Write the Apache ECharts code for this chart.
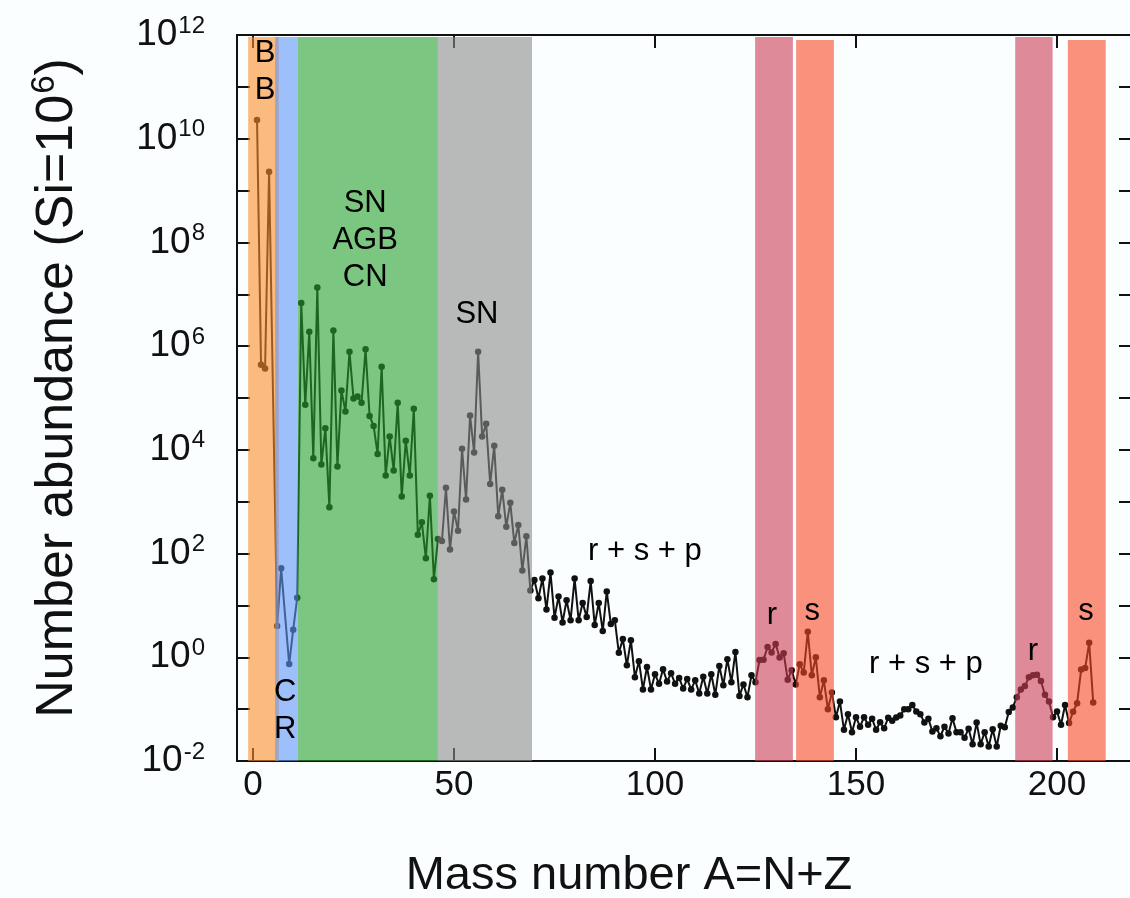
<!DOCTYPE html>
<html>
<head>
<meta charset="utf-8">
<title>Solar system abundances</title>
<script src="https://cdn.jsdelivr.net/npm/echarts@6/dist/echarts.min.js"></script>
<style>
  html, body { margin: 0; padding: 0; background: #fafefe; }
  #chart { width: 1130px; height: 898px; }
</style>
</head>
<body>
<div id="chart"></div>
<script>
// mass number A and number abundance (Si = 1e6)
const massNumber = [
  1, 2, 3, 4, 6, 7, 9, 10, 11, 12, 13, 14, 15, 16, 17, 18, 19, 20,
  21, 22, 23, 24, 25, 26, 27, 28, 29, 30, 31, 32, 33, 34, 35, 36, 37, 38, 39, 40,
  41, 42, 43, 44, 45, 46, 47, 48, 49, 50, 51, 52, 53, 54, 55, 56, 57, 58, 59, 60,
  61, 62, 63, 64, 65, 66, 67, 68, 69, 70, 71, 72, 73, 74, 75, 76, 77, 78, 79, 80,
  81, 82, 83, 84, 85, 86, 87, 88, 89, 90, 91, 92, 93, 94, 95, 96, 97, 98, 99, 100,
  101, 102, 103, 104, 105, 106, 107, 108, 109, 110, 111, 112, 113, 114, 115, 116, 117, 118, 119, 120,
  121, 122, 123, 124, 125, 126, 127, 128, 129, 130, 131, 132, 133, 134, 135, 136, 137, 138, 139, 140,
  141, 142, 143, 144, 145, 146, 147, 148, 149, 150, 151, 152, 153, 154, 155, 156, 157, 158, 159, 160,
  161, 162, 163, 164, 165, 166, 167, 168, 169, 170, 171, 172, 173, 174, 175, 176, 177, 178, 179, 180,
  181, 182, 183, 184, 185, 186, 187, 188, 189, 190, 191, 192, 193, 194, 195, 196, 197, 198, 199, 200,
  201, 202, 203, 204, 205, 206, 207, 208, 209
];
const abundance = [
  2.3e10, 4.4e5, 3.7e5, 2.3e9, 4.0, 52, 0.74, 3.4, 14, 6.8e6, 7.4e4, 1.9e6, 6.9e3, 1.35e7, 5.2e3, 2.6e4, 780, 2.0e6,
  4.8e3, 1.4e5, 5.5e4, 7.8e5, 9.8e4, 1.07e5, 8.1e4, 8.7e5, 4.5e4, 2.9e4, 8.3e3, 4.0e5, 3.2e3, 1.8e4, 4.0e3, 8.1e4, 1.26e3, 1.5e4, 3.2e3, 6.2e4,
  230, 400, 81, 1.3e3, 32, 190, 175, 1.86e3, 120, 650, 275, 1.05e4, 1.1e3, 4.6e4, 8.9e3, 7.8e5, 1.8e4, 3.2e4, 2.2e3, 1.2e4,
  525, 1.7e3, 330, 950, 160, 355, 47, 215, 19.5, 31, 13.8, 33, 8.3, 43, 5.8, 14.8, 4.7, 12.6, 5.2, 33,
  5.2, 11.2, 6.0, 29.5, 4.2, 11.2, 3.2, 18.6, 4.4, 5.2, 1.22, 2.24, 0.70, 2.14, 0.41, 0.84, 0.24, 0.65, 0.24, 0.47,
  0.31, 0.59, 0.34, 0.49, 0.31, 0.40, 0.25, 0.38, 0.24, 0.36, 0.20, 0.42, 0.20, 0.47, 0.19, 0.68, 0.29, 0.92, 0.33, 1.26,
  0.18, 0.30, 0.17, 0.45, 0.33, 0.89, 0.90, 1.58, 1.24, 1.8, 0.99, 1.2, 0.37, 0.56, 0.30, 0.73, 0.51, 3.1, 0.45, 1.0,
  0.17, 0.36, 0.10, 0.21, 0.07, 0.14, 0.04, 0.08, 0.036, 0.07, 0.046, 0.07, 0.05, 0.065, 0.04, 0.056, 0.043, 0.068, 0.06, 0.069,
  0.075, 0.10, 0.10, 0.12, 0.09, 0.08, 0.055, 0.065, 0.037, 0.043, 0.03, 0.046, 0.034, 0.067, 0.036, 0.036, 0.028, 0.042, 0.021, 0.055,
  0.021, 0.036, 0.019, 0.041, 0.019, 0.048, 0.045, 0.088, 0.108, 0.17, 0.24, 0.28, 0.41, 0.45, 0.46, 0.35, 0.19, 0.14, 0.07, 0.09,
  0.05, 0.12, 0.054, 0.089, 0.13, 0.58, 0.62, 1.9, 0.135
];

// tick values
const xTickValues = [0, 50, 100, 150, 200];
const yLabelValues = [1e-2, 1e0, 1e2, 1e4, 1e6, 1e8, 1e10, 1e12];
const yTickValues = [1e-2, 1e-1, 1e0, 1e1, 1e2, 1e3, 1e4, 1e5, 1e6, 1e7, 1e8, 1e9, 1e10, 1e11, 1e12];

// nucleosynthesis regions (mass number ranges)
const bandNames = ['BB', 'CR', 'SN AGB CN', 'SN', 'r', 's', 'r', 's'];
const bandStart = [-1.2, 5.5, 11.2, 46.0, 124.9, 135.1, 189.6, 202.7];
const bandEnd = [6.4, 11.2, 46.0, 69.4, 134.3, 144.5, 198.9, 212.1];
const bandTop = [9.1e11, 9.1e11, 9.1e11, 9.1e11, 9.1e11, 8e11, 9.1e11, 8e11];

// region labels
const regionText = ['B\nB', 'C\nR', 'SN\nAGB\nCN', 'SN', 'r + s + p', 'r', 's', 'r + s + p', 'r', 's'];
const regionAnchor = [
  [3.0, 1.9e11], [8.0, 0.093], [27.9, 1.1e8], [55.7, 4e6], [97.5, 110],
  [129.1, 6.5], [139.1, 7.5], [167.4, 0.72], [194.0, 1.3], [207.2, 7.5]
];

const bandColors = ['#fc8c28', '#6196f7', '#26a02b', '#8c8c8c', '#cb3c53', '#f84826', '#cb3c53', '#f84826'];
const ink = '#111111';
const font = 'Liberation Sans, Arial, Helvetica, sans-serif';

const chart = echarts.init(document.getElementById('chart'));

const points = massNumber.map((a, i) => [a, abundance[i]]);

const bandAreas = bandNames.map((name, i) => [
  { name: name, xAxis: bandStart[i], yAxis: 0.01, itemStyle: { color: bandColors[i], opacity: 0.6 } },
  { xAxis: bandEnd[i], yAxis: bandTop[i] }
]);

function frameAxisLine() {
  return { show: true, onZero: false, lineStyle: { color: ink, width: 2 } };
}
function frameTicks(values) {
  return { show: true, inside: true, length: 13, customValues: values, lineStyle: { color: ink, width: 2 } };
}

const option = {
  backgroundColor: '#fafefe',
  animation: false,
  grid: {
    left: 237,
    top: 35,
    width: 895,
    height: 726,
    containLabel: false,
    outerBoundsMode: 'none'
  },
  xAxis: [{
    type: 'value',
    position: 'bottom',
    min: -3.98,
    max: 218.65,
    axisLine: frameAxisLine(),
    axisTick: frameTicks(xTickValues),
    axisLabel: {
      customValues: xTickValues,
      margin: 7,
      color: ink,
      fontSize: 35,
      fontFamily: font
    },
    splitLine: { show: false }
  }, {
    type: 'value',
    position: 'top',
    min: -3.98,
    max: 218.65,
    axisLine: frameAxisLine(),
    axisTick: frameTicks(xTickValues),
    axisLabel: { show: false },
    splitLine: { show: false }
  }],
  yAxis: [{
    type: 'log',
    logBase: 10,
    position: 'left',
    min: 1e-2,
    max: 1e12,
    axisLine: frameAxisLine(),
    axisTick: frameTicks(yTickValues),
    axisLabel: {
      customValues: yLabelValues,
      margin: 32,
      color: ink,
      fontFamily: font,
      formatter: function (v) {
        return '{b|10}{e|' + Math.round(Math.log10(v)) + '}';
      },
      rich: {
        b: { fontSize: 37, fontFamily: font, color: ink },
        e: { fontSize: 24, fontFamily: font, color: ink, padding: [0, 0, 18, 1] }
      }
    },
    splitLine: { show: false }
  }, {
    type: 'log',
    logBase: 10,
    position: 'right',
    min: 1e-2,
    max: 1e12,
    axisLine: frameAxisLine(),
    axisTick: frameTicks(yTickValues),
    axisLabel: { show: false },
    splitLine: { show: false }
  }],
  series: [{
    type: 'line',
    data: points,
    z: 2,
    symbol: 'circle',
    symbolSize: 6.5,
    showSymbol: true,
    lineStyle: { color: ink, width: 2 },
    itemStyle: { color: ink },
    markArea: {
      silent: true,
      z: 3,
      label: { show: false },
      data: bandAreas
    }
  }, {
    type: 'scatter',
    z: 10,
    silent: true,
    symbolSize: 1,
    itemStyle: { color: 'rgba(0,0,0,0)' },
    data: regionAnchor.map((p, i) => ({ value: p, name: regionText[i] })),
    label: {
      show: true,
      position: 'inside',
      formatter: p => p.name,
      color: '#000',
      textBorderWidth: 0,
      opacity: 1,
      fontSize: 31,
      lineHeight: 37,
      fontFamily: font,
      align: 'center',
      verticalAlign: 'middle'
    }
  }],
  graphic: [{
    type: 'text',
    x: 629,
    y: 876,
    style: {
      text: 'Mass number A=N+Z',
      fill: ink,
      font: '47px ' + font,
      align: 'center',
      verticalAlign: 'middle'
    }
  }, {
    type: 'text',
    x: 58,
    y: 388,
    rotation: Math.PI / 2,
    style: {
      text: 'Number abundance (Si=10{s|6})',
      fill: ink,
      font: '52px ' + font,
      align: 'center',
      verticalAlign: 'middle',
      rich: {
        s: { fontSize: 33, fontFamily: font, fill: ink, padding: [0, 0, 26, 1] }
      }
    }
  }]
};

chart.setOption(option);
</script>
</body>
</html>
